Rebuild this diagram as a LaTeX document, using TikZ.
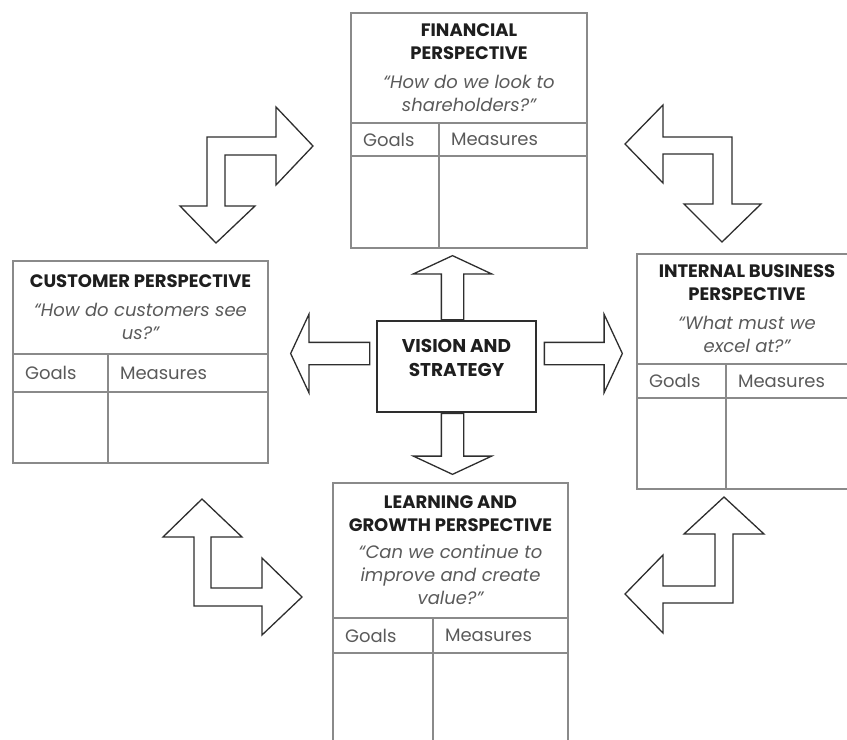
\documentclass[tikz,border=0pt]{standalone}
\usepackage{fontspec}
\setmainfont{Poppins}
\usepackage{tikz}
\usetikzlibrary{arrows.meta,positioning,calc,shapes.arrows}
\definecolor{bscGray}{HTML}{8A8A8A}
\definecolor{bscDark}{HTML}{2E2E2E}
\definecolor{bscText}{HTML}{1E1E1E}
\definecolor{bscQuote}{HTML}{5A5A5A}
\newcommand{\ptitle}[1]{\textbf{#1}}
\newcommand{\pquote}[1]{\textcolor{bscQuote}{\itshape #1}}
\tikzset{
  % perspective header: title and question
  bsc/head/.style={
    draw=bscGray, line width=1.4bp, anchor=north west, align=center,
    inner sep=0pt, outer sep=0pt, font=\fontsize{18bp}{23bp}\selectfont, text=bscText
  },
  % table cells under the header
  bsc/cell/.style={
    draw=bscGray, line width=1.4bp, anchor=north west, align=left,
    inner xsep=12bp, inner ysep=0pt, outer sep=0pt,
    font=\fontsize{18bp}{20bp}\selectfont, text=bscQuote
  },
  % centre box
  bsc/core/.style={
    draw=bscDark, line width=1.4bp, minimum width=159bp, minimum height=91bp,
    align=center, text depth=17bp, font=\fontsize{18.5bp}{24bp}\selectfont\bfseries,
    text=bscText
  },
  % block arrows
  bsc/blk/.style={
    draw=bscDark, fill=white, line width=1.3bp, line join=miter
  },
  bsc/sarrow/.style={
    bsc/blk, single arrow, single arrow head extend=28bp, single arrow tip angle=130,
    inner xsep=0pt, inner ysep=10.5bp, anchor=tail
  },
}
\begin{document}
\begin{tikzpicture}[x=1bp,y=-1bp]
  \useasboundingbox (0,0) rectangle (847,740);
  \clip (0,0) rectangle (847,740);

  % financial
  \node[bsc/head, minimum width=236bp, minimum height=110bp] (finH) at (351,13)
       {\ptitle{FINANCIAL}\\\ptitle{PERSPECTIVE}\\[6bp]\pquote{``How do we look to}\\\pquote{shareholders?''}};
  \node[bsc/cell, text width=64bp, minimum height=33bp] (finG) at (finH.south west) {Goals};
  \node[bsc/cell, text width=124bp, minimum height=33bp] (finM) at (finG.north east) {Measures};
  \node[bsc/cell, text width=64bp, minimum height=92bp] (finGv) at (finG.south west) {};
  \node[bsc/cell, text width=124bp, minimum height=92bp] (finMv) at (finM.south west) {};

  % customer
  \node[bsc/head, minimum width=255bp, minimum height=93bp] (cusH) at (13,261)
       {\ptitle{CUSTOMER PERSPECTIVE}\\[6bp]\pquote{``How do customers see}\\\pquote{us?''}};
  \node[bsc/cell, text width=71bp, minimum height=38bp] (cusG) at (cusH.south west) {Goals};
  \node[bsc/cell, text width=136bp, minimum height=38bp] (cusM) at (cusG.north east) {Measures};
  \node[bsc/cell, text width=71bp, minimum height=71bp] (cusGv) at (cusG.south west) {};
  \node[bsc/cell, text width=136bp, minimum height=71bp] (cusMv) at (cusM.south west) {};

  % internal business
  \node[bsc/head, minimum width=220bp, minimum height=110bp] (intH) at (637,254)
       {\ptitle{INTERNAL BUSINESS}\\\ptitle{PERSPECTIVE}\\[6bp]\pquote{``What must we}\\\pquote{excel at?''}};
  \node[bsc/cell, text width=65bp, minimum height=34bp] (intG) at (intH.south west) {Goals};
  \node[bsc/cell, text width=107bp, minimum height=34bp] (intM) at (intG.north east) {Measures};
  \node[bsc/cell, text width=65bp, minimum height=91bp] (intGv) at (intG.south west) {};
  \node[bsc/cell, text width=107bp, minimum height=91bp] (intMv) at (intM.south west) {};

  % learning and growth
  \node[bsc/head, minimum width=235bp, minimum height=135bp] (lrnH) at (333,483)
       {\ptitle{LEARNING AND}\\\ptitle{GROWTH PERSPECTIVE}\\[4bp]\pquote{``Can we continue to}\\\pquote{improve and create}\\\pquote{value?''}};
  \node[bsc/cell, text width=76bp, minimum height=35bp] (lrnG) at (lrnH.south west) {Goals};
  \node[bsc/cell, text width=111bp, minimum height=35bp] (lrnM) at (lrnG.north east) {Measures};
  \node[bsc/cell, text width=76bp, minimum height=127bp] (lrnGv) at (lrnG.south west) {};
  \node[bsc/cell, text width=111bp, minimum height=127bp] (lrnMv) at (lrnM.south west) {};

  % vision and strategy with its four arrows
  \node[bsc/core] (vis) at (456.5,366.5) {VISION AND\\STRATEGY};
  \node[bsc/sarrow, rotate=90, minimum height=64bp] (visUp) at ([shift={(-4,0)}]vis.north) {};
  \node[bsc/sarrow, rotate=-90, minimum height=61bp] (visDn) at ([shift={(-4,0)}]vis.south) {};
  \node[bsc/sarrow, rotate=180, minimum height=79bp] (visLt) at ([shift={(-6,-13)}]vis.west) {};
  \node[bsc/sarrow, minimum height=78bp] (visRt) at ([shift={(7,-13)}]vis.east) {};

  % elbow arrows between neighbouring perspectives
  \draw[bsc/blk] (313,146) -- (276,185) -- (276,155) -- (225,155) -- (225,206) -- (255,206)
       -- (216,243) -- (180,206) -- (207,206) -- (207,137) -- (276,137) -- (276,107) -- cycle;
  \draw[bsc/blk] (625,144) -- (663,105) -- (663,137) -- (732,137) -- (732,204) -- (761,204)
       -- (722,242) -- (684,204) -- (713,204) -- (713,154) -- (663,154) -- (663,183) -- cycle;
  \draw[bsc/blk] (202,499) -- (242,537) -- (211,537) -- (211,588) -- (262,588) -- (262,558)
       -- (302,597) -- (262,635) -- (262,606) -- (194,606) -- (194,537) -- (163,537) -- cycle;
  \draw[bsc/blk] (724,497) -- (764,534) -- (733,534) -- (733,603) -- (663,603) -- (663,633)
       -- (625,594) -- (663,555) -- (663,586) -- (715,586) -- (715,534) -- (684,534) -- cycle;
\end{tikzpicture}
\end{document}
